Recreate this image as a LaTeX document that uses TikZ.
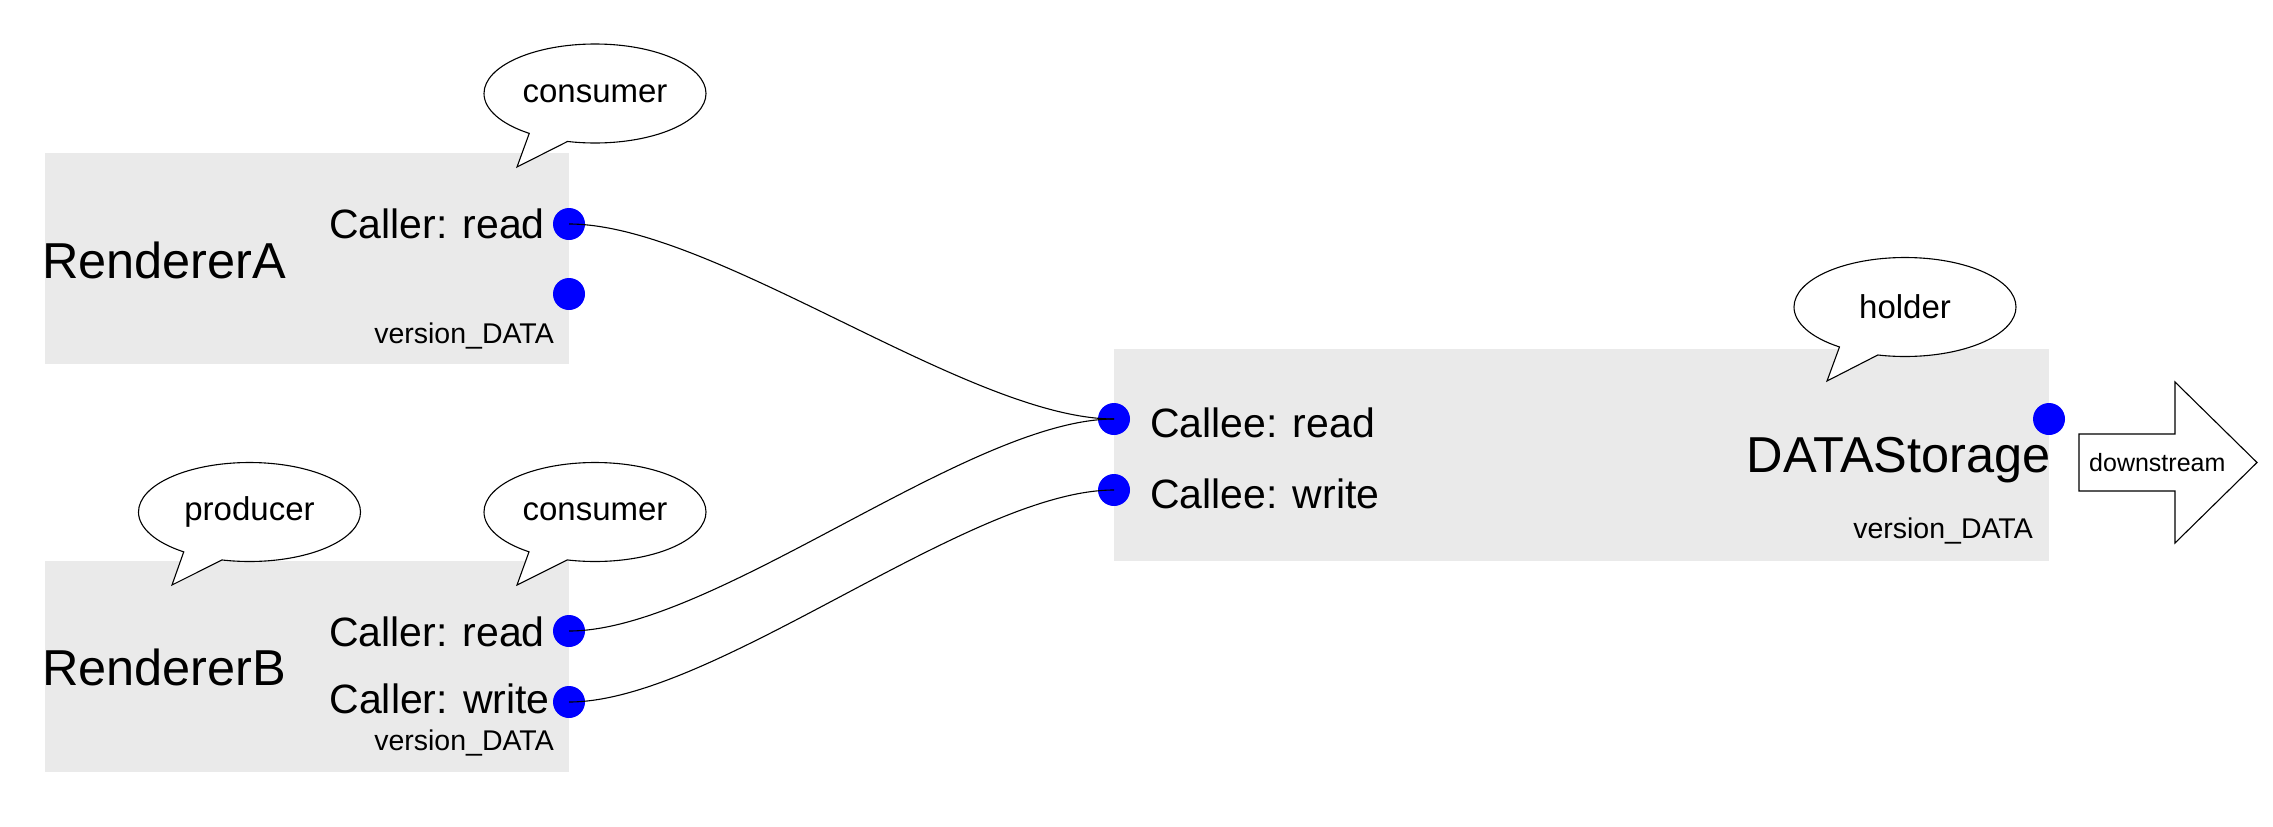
\documentclass[tikz,border=0pt]{standalone}
\usepackage{fontspec}
\setmainfont{Liberation Sans}
\usetikzlibrary{shapes.callouts}
\definecolor{boxgray}{RGB}{234,234,234}
\definecolor{portblue}{RGB}{0,0,255}
\begin{document}
\begin{tikzpicture}[x=1pt,y=1pt,
  comp/.style={rectangle, fill=boxgray, draw=none, inner sep=0pt, anchor=north west},
  port/.style={circle, fill=portblue, draw=none, minimum size=32pt, inner sep=0pt},
  wire/.style={line width=1.1pt},
  bubble/.style={ellipse callout, draw, line width=1.1pt, fill=white, minimum width=222pt, minimum height=99pt, inner sep=0pt, callout pointer arc=22, font=\fontsize{33}{40}\selectfont},
  lbl/.style={inner sep=0pt, font=\fontsize{41}{49}\selectfont},
  big/.style={inner sep=0pt, font=\fontsize{50.5}{60}\selectfont},
  small/.style={inner sep=0pt, font=\fontsize{28.5}{34}\selectfont},
  tiny/.style={inner sep=0pt, font=\fontsize{25}{30}\selectfont},
]
\useasboundingbox (0,0) rectangle (2273,-827);

% component boxes
\node[comp, minimum width=524pt, minimum height=211pt] (rA) at (45,-153) {};
\node[comp, minimum width=524pt, minimum height=211pt] (rB) at (45,-561) {};
\node[comp, minimum width=935pt, minimum height=212pt] (ds) at (1114,-349) {};

% speech bubbles
\node[bubble, callout absolute pointer={(517,-167)}] (bA) at (595,-93.5) {consumer};
\node[bubble, callout absolute pointer={(172,-585)}] (bP) at (249.5,-512) {producer};
\node[bubble, callout absolute pointer={(517,-585)}] (bC) at (595,-512) {consumer};
\node[bubble, callout absolute pointer={(1827,-381)}] (bH) at (1905,-307) {holder};

% ports
\node[port] (a1) at (569,-224) {};
\node[port] (a2) at (569,-294) {};
\node[port] (b1) at (569,-631) {};
\node[port] (b2) at (569,-702) {};
\node[port] (c1) at (1114,-419) {};
\node[port] (c2) at (1114,-490) {};
\node[port] (c3) at (2049,-419) {};

% connectors
\draw[wire] (a1.center) .. controls +(145,0) and +(-145,0) .. (c1.center);
\draw[wire] (b1.center) .. controls +(145,0) and +(-145,0) .. (c1.center);
\draw[wire] (b2.center) .. controls +(145,0) and +(-145,0) .. (c2.center);

% texts RendererA
\node[big, anchor=base west] (tA) at (42,-278) {RendererA};
\node[lbl, anchor=base east] (tAr) at (545,-238) {Caller: read};
\node[small, anchor=base east] (tAv) at (554,-343) {version\_DATA};

% texts RendererB
\node[big, anchor=base west] (tB) at (42,-685) {RendererB};
\node[lbl, anchor=base east] (tBr) at (545,-646) {Caller: read};
\node[lbl, anchor=base east] (tBw) at (550,-713) {Caller: write};
\node[small, anchor=base east] (tBv) at (554,-750) {version\_DATA};

% texts DATAStorage
\node[lbl, anchor=base west] (tCr) at (1150,-437) {Callee: read};
\node[lbl, anchor=base west] (tCw) at (1150,-508) {Callee: write};
\node[big, anchor=base east] (tC) at (2051,-472) {DATAStorage};
\node[small, anchor=base east] (tCv) at (2033,-538) {version\_DATA};

% downstream arrow
\draw[line width=1.1pt, fill=white] (2079,-434) -- (2175,-434) -- (2175,-382) -- (2257,-462.5) -- (2175,-543) -- (2175,-491) -- (2079,-491) -- cycle;
\node[tiny, anchor=base west] (tD) at (2089,-471) {downstream};
\end{tikzpicture}
\end{document}
